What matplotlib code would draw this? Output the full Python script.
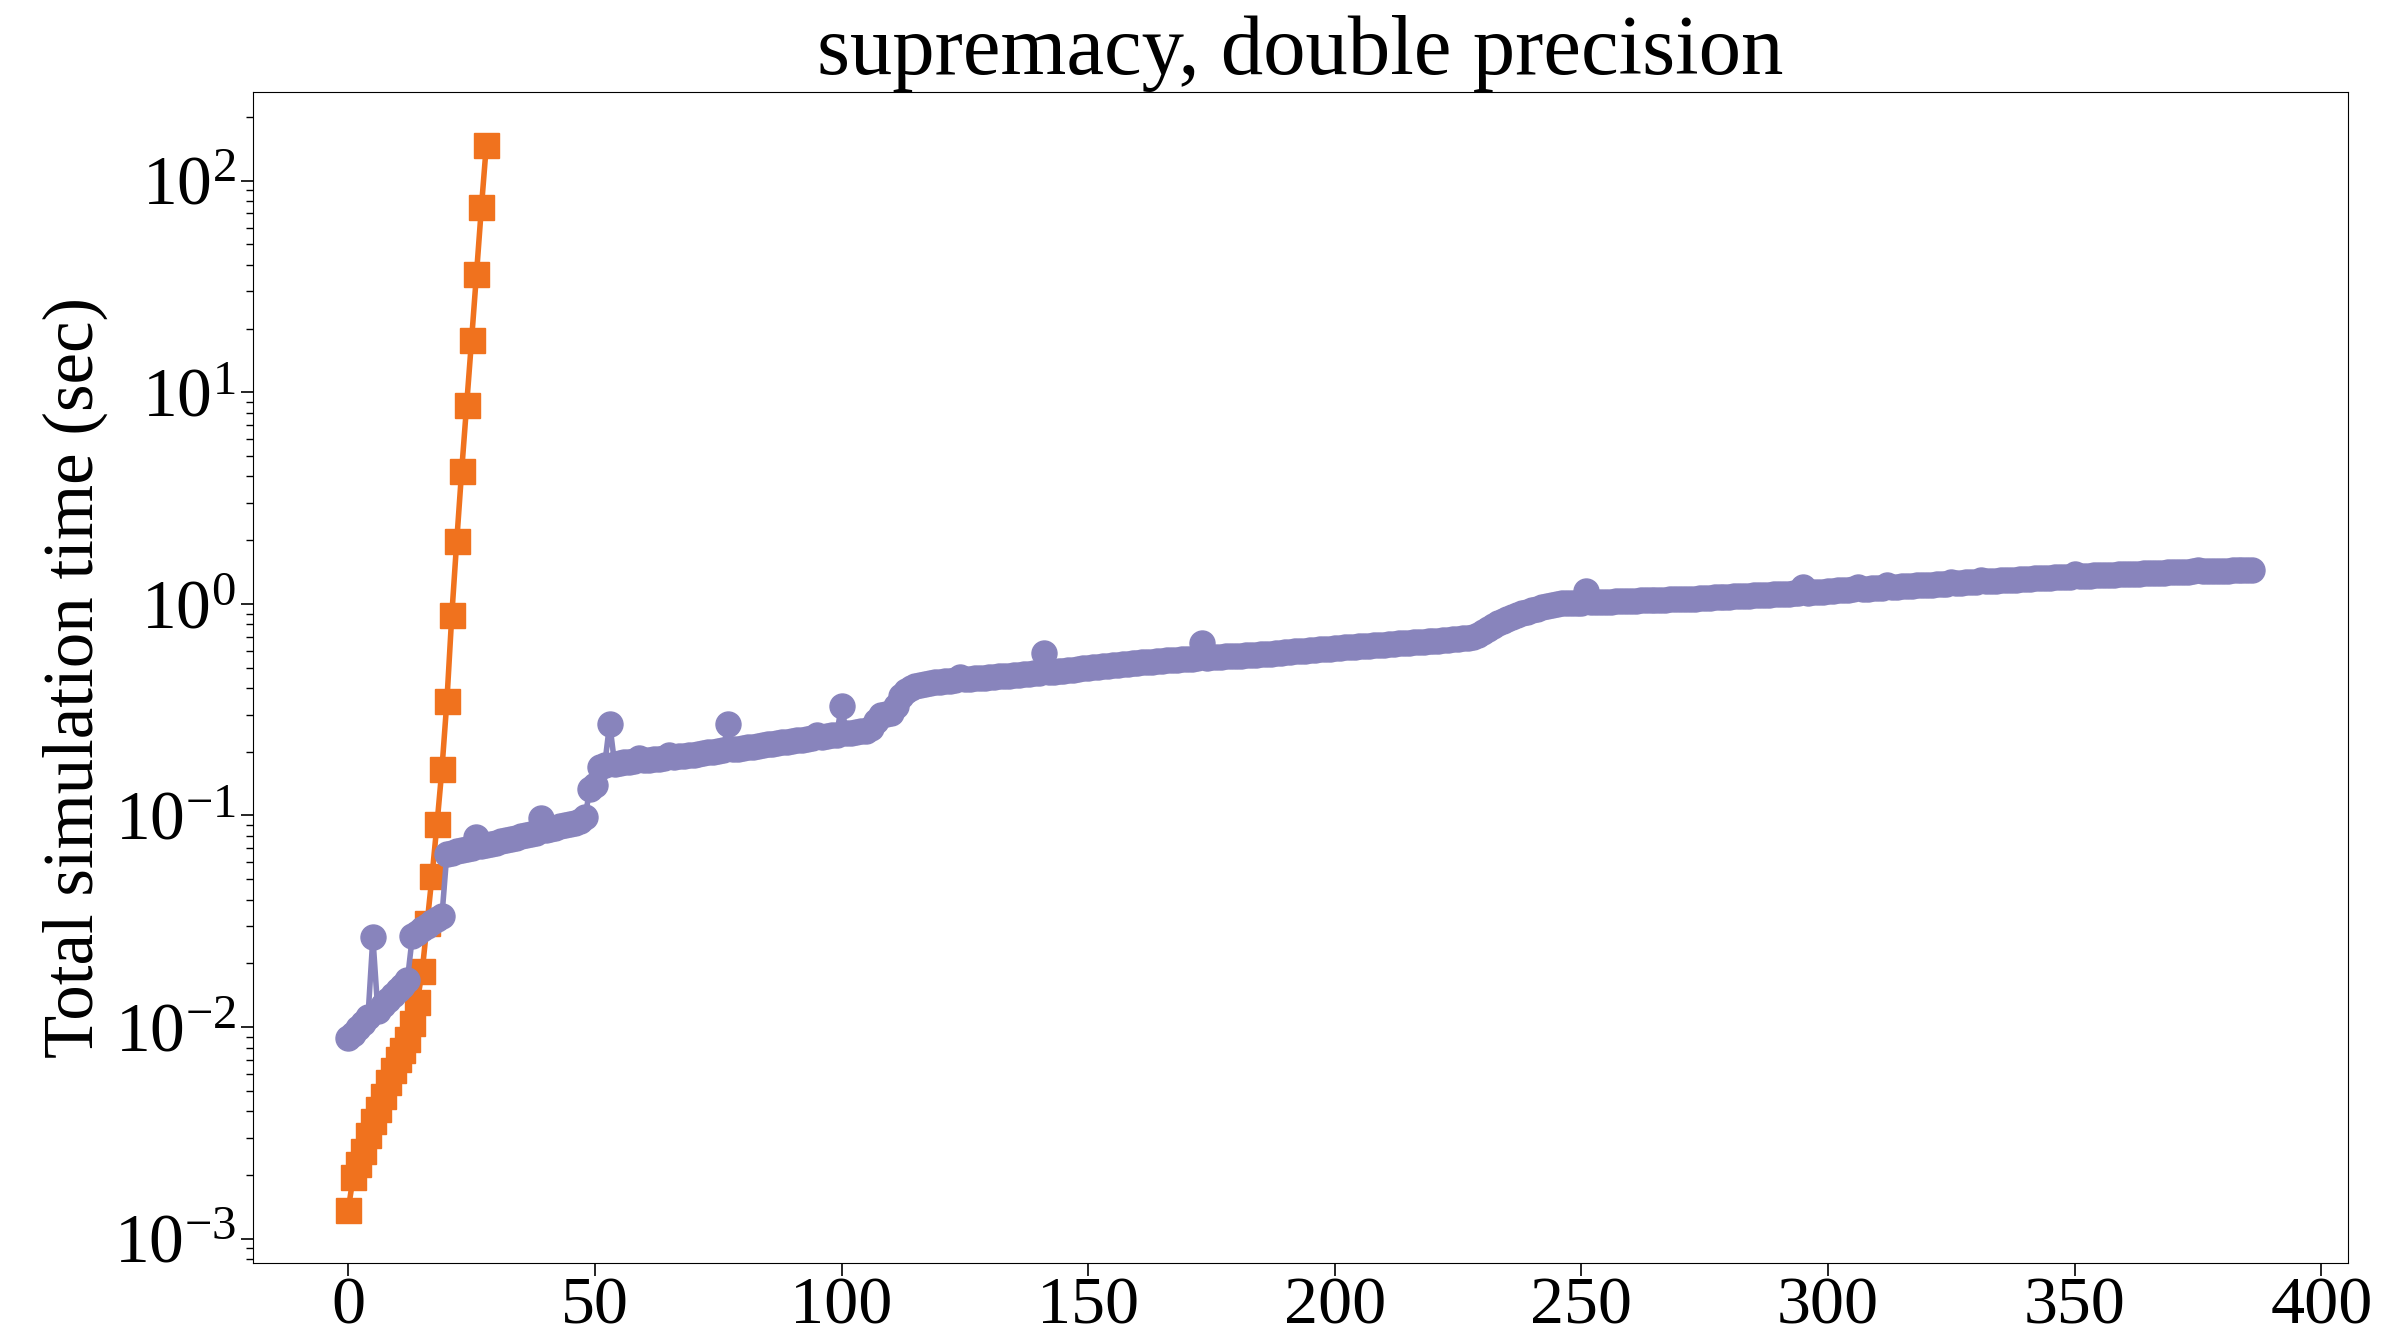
import numpy as np
import matplotlib
matplotlib.use("Agg")
import matplotlib.pyplot as plt

plt.rcParams['font.family'] = ['Liberation Serif', 'DejaVu Serif']
plt.rcParams['mathtext.fontset'] = 'stix'

# dense state vector: time per qubit count
orange_x = list(range(29))
orange_t = [0.00137, 0.00195, 0.00225, 0.0026, 0.0031, 0.0036, 0.0041, 0.0047, 0.0055, 0.0063,
            0.0071, 0.0078, 0.0088, 0.0104, 0.0132, 0.0184, 0.031, 0.052, 0.091, 0.166,
            0.346, 0.885, 1.98, 4.26, 8.66, 17.6, 36.1, 74.7, 147.0]

# second simulator, one point per gate count
purple_t = [
    0.0089, 0.0093, 0.0099, 0.0105, 0.0111, 0.0265, 0.0119, 0.0127, 0.0134, 0.0141,
    0.0149, 0.0157, 0.0167, 0.0268, 0.0279, 0.0290, 0.0301, 0.0313, 0.0324, 0.0335,
    0.0660, 0.0668, 0.0676, 0.0685, 0.0694, 0.0703, 0.0790, 0.0718, 0.0727, 0.0736,
    0.0745, 0.0755, 0.0765, 0.0775, 0.0785, 0.0796, 0.0807, 0.0818, 0.0829, 0.0970,
    0.0852, 0.0864, 0.0876, 0.0888, 0.0900, 0.0913, 0.0926, 0.0940, 0.0985, 0.1330,
    0.1400, 0.1700, 0.1740, 0.2720, 0.1760, 0.1770, 0.1780, 0.1790, 0.1800, 0.1860,
    0.1820, 0.1830, 0.1845, 0.1855, 0.1870, 0.1930, 0.1890, 0.1900, 0.1915, 0.1930,
    0.1940, 0.1955, 0.1970, 0.1985, 0.2000, 0.2015, 0.2030, 0.2720, 0.2060, 0.2070,
    0.2085, 0.2100, 0.2115, 0.2130, 0.2150, 0.2165, 0.2180, 0.2200, 0.2215, 0.2230,
    0.2250, 0.2265, 0.2285, 0.2300, 0.2320, 0.2400, 0.2355, 0.2375, 0.2390, 0.2410,
    0.3290, 0.2445, 0.2465, 0.2480, 0.2500, 0.2520, 0.2580, 0.2800, 0.2980, 0.3020,
    0.305, 0.330, 0.365, 0.388, 0.402, 0.410, 0.415, 0.419, 0.422, 0.425,
    0.428, 0.431, 0.434, 0.436, 0.452, 0.440, 0.442, 0.444, 0.446, 0.448,
    0.450, 0.452, 0.454, 0.456, 0.458, 0.461, 0.463, 0.465, 0.467, 0.469,
    0.471, 0.588, 0.474, 0.477, 0.480, 0.483, 0.486, 0.489, 0.492, 0.495,
    0.498, 0.501, 0.504, 0.507, 0.510, 0.513, 0.516, 0.519, 0.522, 0.525,
    0.528, 0.530, 0.532, 0.534, 0.536, 0.538, 0.540, 0.542, 0.544, 0.546,
    0.548, 0.550, 0.552, 0.655, 0.556, 0.558, 0.560, 0.562, 0.564, 0.566,
    0.568, 0.570, 0.572, 0.574, 0.576, 0.578, 0.580, 0.582, 0.585, 0.588,
    0.590, 0.593, 0.596, 0.598, 0.600, 0.603, 0.606, 0.609, 0.612, 0.615,
    0.617, 0.620, 0.622, 0.625, 0.627, 0.630, 0.632, 0.635, 0.637, 0.640,
    0.642, 0.645, 0.647, 0.650, 0.652, 0.655, 0.658, 0.660, 0.663, 0.665,
    0.668, 0.671, 0.674, 0.677, 0.680, 0.683, 0.686, 0.690, 0.700, 0.715,
    0.735, 0.760, 0.785, 0.810, 0.830, 0.850, 0.870, 0.890, 0.905, 0.920,
    0.935, 0.950, 0.965, 0.980, 0.992, 1.000, 1.004, 1.007, 1.010, 1.012,
    1.014, 1.150, 1.018, 1.020, 1.022, 1.024, 1.026, 1.028, 1.030, 1.032,
    1.034, 1.036, 1.038, 1.040, 1.042, 1.044, 1.046, 1.048, 1.050, 1.052,
    1.054, 1.056, 1.058, 1.060, 1.063, 1.066, 1.069, 1.072, 1.075, 1.078,
    1.081, 1.084, 1.087, 1.090, 1.093, 1.096, 1.099, 1.102, 1.105, 1.108,
    1.111, 1.114, 1.117, 1.120, 1.123, 1.200, 1.130, 1.133, 1.136, 1.139,
    1.150, 1.154, 1.158, 1.162, 1.166, 1.170, 1.200, 1.178, 1.182, 1.186,
    1.190, 1.194, 1.225, 1.202, 1.206, 1.210, 1.214, 1.218, 1.222, 1.226,
    1.230, 1.234, 1.238, 1.242, 1.246, 1.275, 1.254, 1.258, 1.262, 1.266,
    1.270, 1.295, 1.278, 1.282, 1.286, 1.290, 1.294, 1.298, 1.302, 1.306,
    1.310, 1.314, 1.318, 1.322, 1.326, 1.330, 1.334, 1.338, 1.342, 1.346,
    1.380, 1.352, 1.356, 1.360, 1.363, 1.366, 1.369, 1.372, 1.375, 1.378,
    1.381, 1.384, 1.387, 1.390, 1.393, 1.396, 1.399, 1.402, 1.405, 1.408,
    1.411, 1.414, 1.417, 1.420, 1.423, 1.450, 1.427, 1.429, 1.431, 1.433,
    1.435, 1.437, 1.439, 1.441, 1.443, 1.445, 1.447,
]
purple_x = list(range(len(purple_t)))

orange = '#f0721e'
purple = '#8884bc'

fig = plt.figure(figsize=(24.05, 13.38), dpi=100)
ax = fig.add_axes([0.1052, 0.0561, 0.8709, 0.8751])

ax.plot(orange_x, orange_t, color=orange, marker='s', markersize=18, linewidth=4)
ax.plot(purple_x, purple_t, color=purple, marker='o', markersize=18, linewidth=4)

ax.set_yscale('log')
ax.set_title('supremacy, double precision', fontsize=61)
ax.set_ylabel('Total simulation time (sec)', fontsize=51)
ax.tick_params(axis='both', which='major', labelsize=50, length=9, width=1.2)
ax.tick_params(axis='x', which='major', labelsize=49, pad=1)
ax.tick_params(axis='y', which='minor', length=5, width=1)
ax.set_xticks([0, 50, 100, 150, 200, 250, 300, 350, 400])

fig.savefig('out.png', dpi=100)
